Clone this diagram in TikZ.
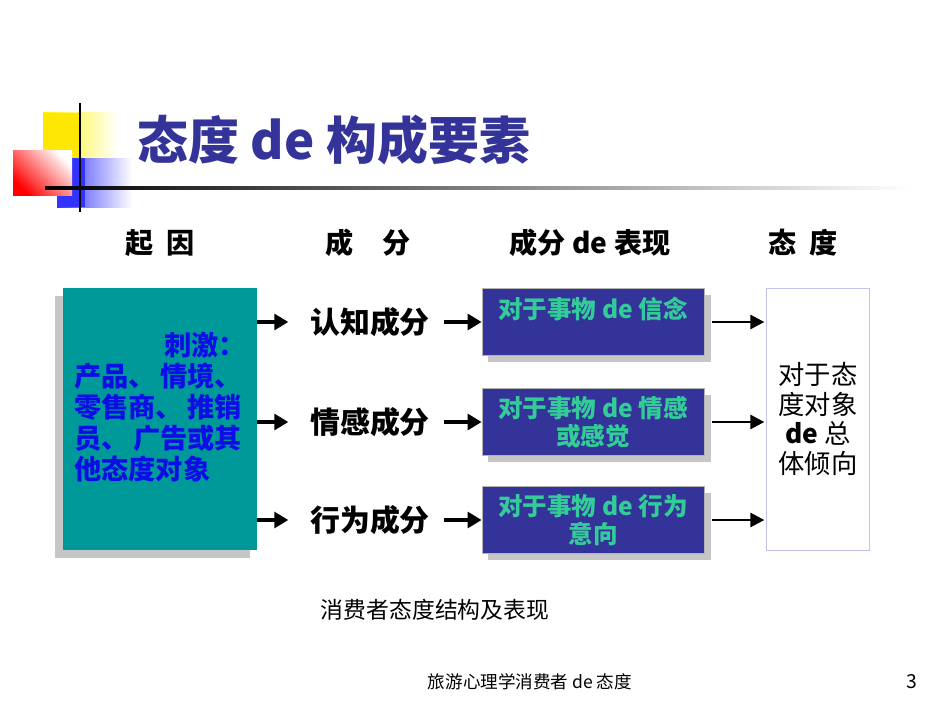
\documentclass[tikz,border=0pt]{standalone}
\usepackage{fontspec}
\setmainfont{Noto Sans CJK SC}
\usepackage{tikz}
\usetikzlibrary{positioning,arrows.meta}
\definecolor{TitleBlue}{rgb}{0.2,0.2,0.6}
\definecolor{BoxBlue}{rgb}{0.2,0.2,0.6}
\definecolor{StimTeal}{rgb}{0,0.6,0.6}
\definecolor{TextGreen}{rgb}{0.2,0.8,0.6}
\definecolor{StimText}{rgb}{0.05,0.05,0.9}
\tikzset{
  shadowbox/.style={fill=gray!45, draw=none},
  bluebox/.style={fill=BoxBlue, draw=gray!60, minimum width=222*0.02cm, inner sep=1pt,
                  text=TextGreen, font=\fontsize{14}{16}\selectfont\bfseries, align=center},
  comp/.style={font=\fontsize{17}{19}\selectfont\bfseries},
  head/.style={font=\fontsize{16}{18}\selectfont\bfseries},
  fat/.style={-{Triangle[length=8pt,width=9pt]}, line width=2.5pt},
  thin/.style={-{Triangle[length=8pt,width=8pt]}, line width=1.5pt}
}
\begin{document}
\begin{tikzpicture}[x=0.02cm,y=-0.02cm]
  \useasboundingbox (0,0) rectangle (950,713);
  % logo
  \shade[left color=yellow!90!orange, right color=white] (43,113) rectangle (118,158);
  \fill[yellow!90!orange] (43,113) rectangle (80,158);
  \shade[left color=blue!80, right color=white] (57,158) rectangle (132,207);
  \fill[blue!80] (57,158) rectangle (85,207);
  \shade[left color=white, right color=red, shading angle=-45] (13,150) rectangle (72,195);
  \draw[line width=1.2pt] (80,103) -- (80,212);
  \shade[left color=black, right color=white] (45,186) rectangle (910,189);
  % title
  \node[anchor=west, text=TitleBlue, font=\fontsize{29}{32}\selectfont\bfseries] (title) at (131,140) {态度 de 构成要素};

  % column heads
  \node[head] (h1) at (160,243) {起\ \ 因};
  \node[head] (h2) at (368,243) {成\quad 分};
  \node[head] (h3) at (590,243) {成分 de 表现};
  \node[head] (h4) at (803,243) {态\ \ 度};

  % stimulus box
  \fill[shadowbox] (55,296) rectangle (250,558);
  \node[fill=StimTeal, minimum width=194*0.02cm, minimum height=262*0.02cm, inner sep=0pt] (stim) at (160,419) {};
  \node[text=StimText, font=\fontsize{15.5}{17.6}\selectfont\bfseries, align=left, anchor=north west] (stimtxt) at (68,326)
    {\hspace*{3.3em}刺激：\\产品、\,情境、\\零售商、\,推销\\员、\,广告或其\\他态度对象};

  % components
  \foreach \y/\lab/\txt [count=\i] in {320/认知成分/对于事物 de 信念\\\mbox{}, 420/情感成分/对于事物 de 情感\\或感觉, 518/行为成分/对于事物 de 行为\\意向}{
    \node[comp] (c\i) at (370,\y+2) {\lab};
    \fill[shadowbox] (488,\y-25) rectangle (711,\y+42);
    \node[bluebox, minimum height=67*0.02cm, anchor=north] (b\i) at (593,\y-32) {\txt};
    \draw[fat] (stim.east |- c\i) -- ++(31,0);
    \draw[fat] (c\i.east) ++(8,0) -- (b\i.west |- c\i);
    \draw[thin] (b\i.east |- c\i) ++(8,0) -- ++(52,0);
  }

  % attitude box
  \node[draw=gray!40!blue!30, fill=white, minimum width=103*0.02cm, minimum height=262*0.02cm,
        align=center, font=\fontsize{15}{17}\selectfont] (att) at (818,419)
    {对于态\\度对象\\\textbf{de} 总\\体倾向};

  % captions
  \node[font=\fontsize{13}{15}\selectfont] (cap) at (435,610) {消费者态度结构及表现};
  \node[font=\fontsize{10}{12}\selectfont] (foot) at (530,682) {旅游心理学消费者 de 态度};
  \node[font=\fontsize{11}{12}\selectfont] (page) at (912,682) {3};
\end{tikzpicture}
\end{document}
